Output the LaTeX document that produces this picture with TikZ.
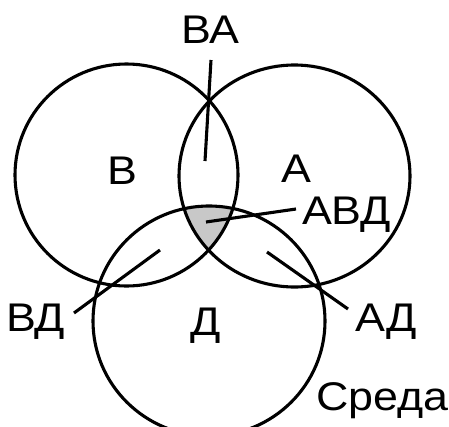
\documentclass[tikz,border=0pt]{standalone}
\usepackage{fontspec}
\setmainfont[FakeStretch=1.12]{Liberation Sans}
\definecolor{lensgray}{RGB}{200,200,200}
\tikzset{
  setring/.style={draw=black, line width=3.1pt},
  lbl/.style={anchor=base west, inner sep=0pt, outer sep=0pt, font=\fontsize{40}{48}\selectfont},
  leader/.style={draw=black, line width=3.1pt}
}
\begin{document}
\begin{tikzpicture}[x=1pt,y=-1pt]
\useasboundingbox (0,0) rectangle (449,426);
\fill[white] (0,0) rectangle (449,426);
% shaded triple intersection
\begin{scope}
  \clip (126.5,175) ellipse [x radius=111.5pt, y radius=111pt];
  \clip (294.5,176) ellipse [x radius=115.5pt, y radius=111pt];
  \fill[lensgray] (209,321) ellipse [x radius=116pt, y radius=115pt];
\end{scope}
% circles
\draw[setring] (126.5,175) ellipse [x radius=111.5pt, y radius=111pt];
\draw[setring] (294.5,176) ellipse [x radius=115.5pt, y radius=111pt];
\draw[setring] (209,321) ellipse [x radius=116pt, y radius=115pt];
% labels
\node[lbl] (ba)  at (181,43)  {ВА};
\node[lbl] (b)   at (107,184) {В};
\node[lbl] (a)   at (281,182) {А};
\node[lbl] (abd) at (302,224) {АВД};
\node[lbl] (bd)  at (6,331)   {ВД};
\node[lbl] (d)   at (190,335) {Д};
\node[lbl] (ad)  at (355,331) {АД};
\node[lbl] (env) at (316,410) {Среда};
% leader ends
\coordinate (baS) at (211,60);
\coordinate (baE) at (205,161);
\coordinate (abdS) at (296,209);
\coordinate (abdE) at (206,222);
\coordinate (bdS) at (74,313);
\coordinate (bdE) at (160,250);
\coordinate (adS) at (348,309);
\coordinate (adE) at (267,252);
\draw[leader] (baS) -- (baE);
\draw[leader] (abdS) -- (abdE);
\draw[leader] (bdS) -- (bdE);
\draw[leader] (adS) -- (adE);
\end{tikzpicture}
\end{document}
